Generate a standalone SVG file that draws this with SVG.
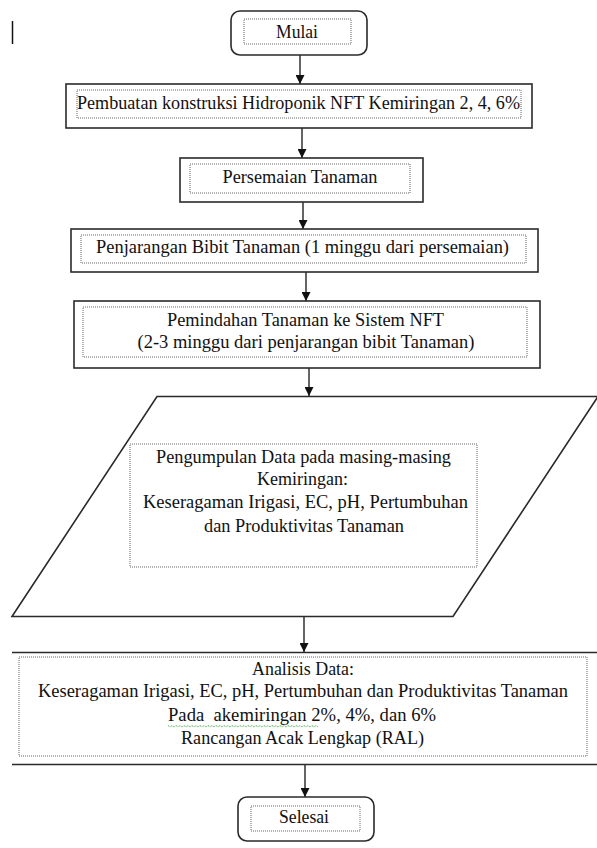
<svg xmlns="http://www.w3.org/2000/svg" width="597" height="848" viewBox="0 0 597 848">
<style>
.outer{fill:#fff;stroke:#2a2a2a;stroke-width:1.6}
.inner{fill:none;stroke:#555;stroke-width:0.9;stroke-dasharray:1 1}
text{font-family:'Liberation Serif','Times New Roman',serif;font-size:19px;fill:#111;text-anchor:middle}
.conn{stroke:#111;stroke-width:1.3;fill:none}
</style>
<defs>
<marker id="ah" viewBox="0 0 10 10" refX="10" refY="5" markerWidth="9" markerHeight="9" markerUnits="userSpaceOnUse" orient="auto">
<path d="M0,0 L10,5 L0,10 z" fill="#111"/>
</marker>
</defs>
<rect width="597" height="848" fill="#fff"/>
<line x1="12.5" y1="21" x2="12.5" y2="44" stroke="#111" stroke-width="1.5"/>

<g id="connectors">
<line class="conn" x1="300" y1="55" x2="300" y2="84" marker-end="url(#ah)"/>
<line class="conn" x1="302" y1="128" x2="302" y2="158" marker-end="url(#ah)"/>
<line class="conn" x1="303" y1="202" x2="303" y2="229" marker-end="url(#ah)"/>
<line class="conn" x1="306" y1="272" x2="306" y2="301" marker-end="url(#ah)"/>
<line class="conn" x1="309" y1="368" x2="309" y2="396" marker-end="url(#ah)"/>
<line class="conn" x1="304" y1="617" x2="304" y2="652" marker-end="url(#ah)"/>
<line class="conn" x1="305" y1="764" x2="305" y2="797" marker-end="url(#ah)"/>
</g>

<g id="mulai">
<rect class="outer" x="231" y="11" width="136" height="44" rx="9"/>
<rect class="inner" x="244" y="19" width="107" height="25"/>
<text x="297" y="38" textLength="42" lengthAdjust="spacingAndGlyphs">Mulai</text>
</g>

<g id="pembuatan">
<rect class="outer" x="66" y="84" width="466" height="44"/>
<rect class="inner" x="77" y="90" width="444" height="28"/>
<text x="298.5" y="109" textLength="443" lengthAdjust="spacingAndGlyphs">Pembuatan konstruksi Hidroponik NFT Kemiringan 2, 4, 6%</text>
</g>

<g id="persemaian">
<rect class="outer" x="180" y="158" width="243" height="44"/>
<rect class="inner" x="190" y="164" width="220" height="29"/>
<text x="300" y="183" textLength="155" lengthAdjust="spacingAndGlyphs">Persemaian Tanaman</text>
</g>

<g id="penjarangan">
<rect class="outer" x="71" y="229" width="467" height="43"/>
<rect class="inner" x="81" y="235" width="445" height="28"/>
<text x="302.5" y="253" textLength="413" lengthAdjust="spacingAndGlyphs">Penjarangan Bibit Tanaman (1 minggu dari persemaian)</text>
</g>

<g id="pemindahan">
<rect class="outer" x="74" y="301" width="466" height="67"/>
<rect class="inner" x="83" y="307" width="444" height="50"/>
<text x="305.5" y="326" textLength="277" lengthAdjust="spacingAndGlyphs">Pemindahan Tanaman ke Sistem NFT</text>
<text x="306" y="348" textLength="337" lengthAdjust="spacingAndGlyphs">(2-3 minggu dari penjarangan bibit Tanaman)</text>
</g>

<g id="pengumpulan">
<polygon class="outer" points="157,396.5 598,396.5 453,616.5 12,616.5"/>
<rect class="inner" x="130" y="444" width="347" height="123"/>
<text x="303.5" y="463" textLength="295" lengthAdjust="spacingAndGlyphs">Pengumpulan Data pada masing-masing</text>
<text x="302.5" y="485" textLength="91" lengthAdjust="spacingAndGlyphs">Kemiringan:</text>
<text x="305.5" y="508" textLength="325" lengthAdjust="spacingAndGlyphs">Keseragaman Irigasi, EC, pH, Pertumbuhan</text>
<text x="304" y="532" textLength="200" lengthAdjust="spacingAndGlyphs">dan Produktivitas Tanaman</text>
</g>

<g id="analisis">
<rect x="12" y="652" width="585" height="112" fill="#fff"/>
<path d="M12 652.5 H597 M12 764.5 H597" stroke="#2a2a2a" stroke-width="1.6" fill="none"/>
<rect class="inner" x="19" y="657" width="568" height="99"/>
<text x="303" y="675" textLength="102" lengthAdjust="spacingAndGlyphs">Analisis Data:</text>
<text x="303" y="697" textLength="530" lengthAdjust="spacingAndGlyphs">Keseragaman Irigasi, EC, pH, Pertumbuhan dan Produktivitas Tanaman</text>
<text x="302" y="721" textLength="268" lengthAdjust="spacingAndGlyphs" xml:space="preserve">Pada  akemiringan 2%, 4%, dan 6%</text>
<path d="M168 725.5 l2 1.5 l2 -1.5 l2 1.5 l2 -1.5 l2 1.5 l2 -1.5 l2 1.5 l2 -1.5 l2 1.5 l2 -1.5 l2 1.5 l2 -1.5 l2 1.5 l2 -1.5 l2 1.5 l2 -1.5 l2 1.5 l2 -1.5 l2 1.5 l2 -1.5 l2 1.5 l2 -1.5 l2 1.5 l2 -1.5 l2 1.5 l2 -1.5 l2 1.5 l2 -1.5 l2 1.5 l2 -1.5 l2 1.5 l2 -1.5 l2 1.5 l2 -1.5 l2 1.5 l2 -1.5 l2 1.5 l2 -1.5 l2 1.5 l2 -1.5 l2 1.5 l2 -1.5 l2 1.5 l2 -1.5 l2 1.5 l2 -1.5 l2 1.5 l2 -1.5 l2 1.5 l2 -1.5 l2 1.5 l2 -1.5 l2 1.5 l2 -1.5 l2 1.5 l2 -1.5 l2 1.5 l2 -1.5 l2 1.5 l2 -1.5 l2 1.5 l2 -1.5 l2 1.5 l2 -1.5 l2 1.5 l2 -1.5 l2 1.5 l2 -1.5 l2 1.5 l2 -1.5 l2 1.5 l2 -1.5 l2 1.5 l2 -1.5 l2 1.5" fill="none" stroke="#4caf50" stroke-width="1" stroke-dasharray="1.2 0.8"/>
<text x="302.5" y="744" textLength="243" lengthAdjust="spacingAndGlyphs">Rancangan Acak Lengkap (RAL)</text>
</g>

<g id="selesai">
<rect class="outer" x="238" y="797" width="136" height="44" rx="9"/>
<rect class="inner" x="251" y="806" width="109" height="25"/>
<text x="304" y="823" textLength="50" lengthAdjust="spacingAndGlyphs">Selesai</text>
</g>
</svg>
